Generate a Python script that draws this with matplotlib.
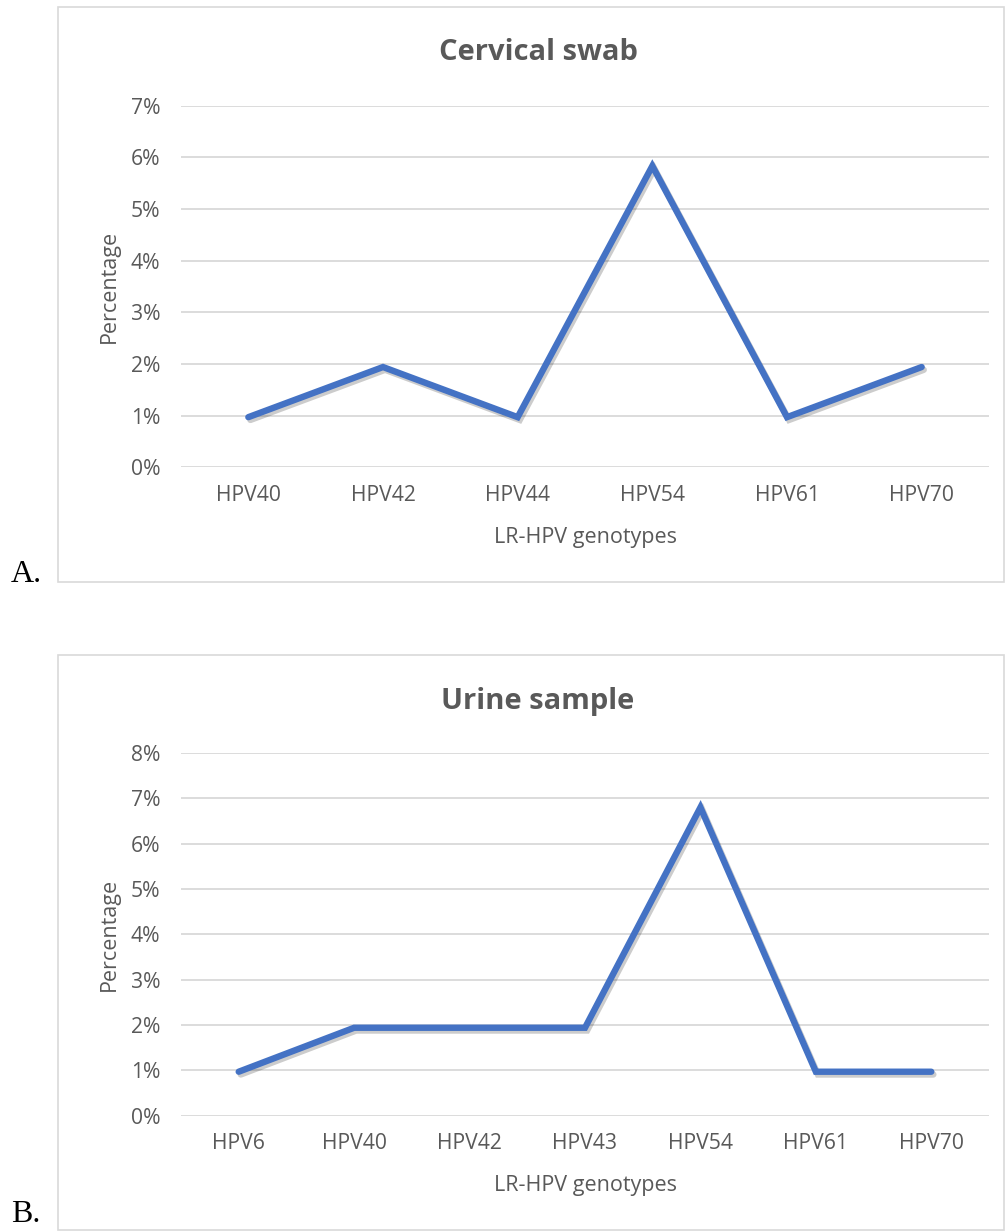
import matplotlib
matplotlib.use('Agg')
import matplotlib.pyplot as plt
import matplotlib.patheffects as pe
from matplotlib.patches import Rectangle
from matplotlib.ticker import PercentFormatter, MultipleLocator

# data (percent of samples)
cervical_genotypes = ['HPV40', 'HPV42', 'HPV44', 'HPV54', 'HPV61', 'HPV70']
cervical_pct = [0.97, 1.94, 0.97, 5.83, 0.97, 1.94]

urine_genotypes = ['HPV6', 'HPV40', 'HPV42', 'HPV43', 'HPV54', 'HPV61', 'HPV70']
urine_pct = [0.97, 1.94, 1.94, 1.94, 6.80, 0.97, 0.97]

W, H = 1005, 1231
text_grey = '#595959'
grid_grey = '#D9D9D9'
line_blue = '#4472C4'

plt.rcParams['font.family'] = ['Open Sans', 'DejaVu Sans']

fig = plt.figure(figsize=(W / 100, H / 100), dpi=100)


def fx(px):
    return px / W


def fy(py):
    return 1 - py / H


def panel(names, vals, ymax, top_px, bot_px, box_top, box_bot, title, letter, letter_y):
    # outer chart box
    fig.add_artist(Rectangle((fx(58), fy(box_bot)), fx(1004) - fx(58), fy(box_top) - fy(box_bot),
                             transform=fig.transFigure, fill=False, edgecolor=grid_grey, linewidth=1.2))

    ax = fig.add_axes([fx(181), fy(bot_px), fx(989) - fx(181), fy(top_px) - fy(bot_px)])
    x = list(range(len(names)))
    ax.plot(x, vals, color=line_blue, linewidth=4.6, solid_capstyle='round', solid_joinstyle='miter',
            path_effects=[pe.SimpleLineShadow(offset=(1.5, -2.0), shadow_color='black', alpha=0.2),
                          pe.Normal()], zorder=3)

    ax.set_xlim(-0.5, len(names) - 0.5)
    ax.set_ylim(0, ymax)
    ax.yaxis.set_major_locator(MultipleLocator(1))
    ax.yaxis.set_major_formatter(PercentFormatter(xmax=100, decimals=0))
    ax.set_xticks(x)
    ax.set_xticklabels(names)
    ax.grid(axis='y', color=grid_grey, linewidth=1.3)
    ax.set_axisbelow(True)
    for s in ax.spines.values():
        s.set_visible(False)
    ax.tick_params(axis='both', length=0, labelsize=15.2, colors=text_grey)
    ax.tick_params(axis='x', pad=12.5)
    ax.tick_params(axis='y', pad=15)

    cy = (top_px + bot_px) / 2
    fig.text(fx(109), fy(cy), 'Percentage', rotation=90, ha='center', va='center',
             fontsize=15.5, color=text_grey)
    fig.text(fx(585), fy(bot_px + 70), 'LR-HPV genotypes', ha='center', va='center',
             fontsize=15.5, color=text_grey)
    fig.text(fx(538), fy(box_top + 46), title, ha='center', va='center',
             fontsize=21, fontweight='bold', color=text_grey)
    fig.text(fx(11), fy(letter_y), letter, ha='left', va='baseline',
             fontsize=23, family='Liberation Serif', color='black')
    return ax


panel(cervical_genotypes, cervical_pct, 7, 105.5, 467.3, 7, 582, 'Cervical swab', 'A.', 582)
panel(urine_genotypes, urine_pct, 8, 753, 1115.7, 655, 1230, 'Urine sample', 'B.', 1222)

fig.savefig('out.png', dpi=100, facecolor='white')
